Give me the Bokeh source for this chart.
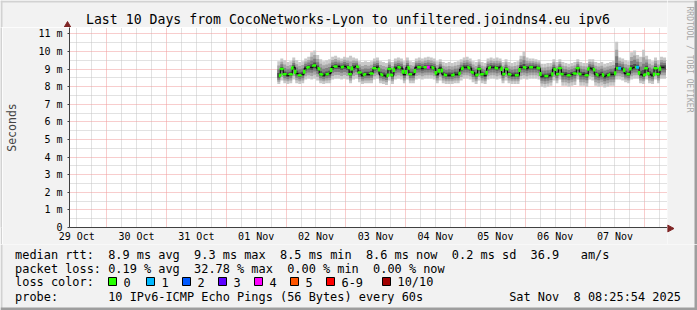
import math
from bokeh.plotting import figure
from bokeh.layouts import column, row
from bokeh.models import Range1d, FixedTicker
from bokeh.core.properties import value
from bokeh.embed import file_html
from bokeh.resources import INLINE

# ---------------- data ----------------
title_text = "Last 10 Days from CocoNetworks-Lyon to unfiltered.joindns4.eu ipv6"
# x axis in hours since 2025-10-29 00:00
x_start_hour = 9.08
x_end_hour = 249.08
day_tick_hours = [12, 36, 60, 84, 108, 132, 156, 180, 204, 228]
day_labels = ["29 Oct", "30 Oct", "31 Oct", "01 Nov", "02 Nov",
              "03 Nov", "04 Nov", "05 Nov", "06 Nov", "07 Nov"]
midnight_hours = [24, 48, 72, 96, 120, 144, 168, 192, 216, 240]
y_ticks = [0, 1, 2, 3, 4, 5, 6, 7, 8, 9, 10, 11]
y_labels = ["0", "1 m", "2 m", "3 m", "4 m", "5 m", "6 m", "7 m",
            "8 m", "9 m", "10 m", "11 m"]

data_start_hour = 93.08   # first sample (Nov 1, ~21:05)
step_hours = 1.2          # one sample every 72 minutes

median_ms = [
    8.60, 9.00, 8.70, 8.65, 8.70, 9.10, 8.75, 8.65, 8.70, 9.05,
    9.10, 9.10, 9.20, 9.05, 8.70, 8.65, 8.70, 8.75, 9.10, 9.15,
    9.15, 9.10, 9.15, 9.10, 8.70, 9.10, 9.15, 8.80, 8.65, 8.70,
    8.70, 8.75, 9.05, 9.10, 8.70, 8.65, 8.60, 9.00, 8.65, 9.05,
    9.10, 9.05, 8.70, 9.10, 8.70, 8.70, 9.10, 9.10, 9.05, 9.10,
    9.10, 9.10, 9.05, 8.70, 9.05, 8.70, 8.65, 8.65, 8.65, 8.70,
    8.70, 9.00, 9.10, 9.10, 9.05, 8.80, 8.65, 9.00, 8.70, 8.65,
    9.05, 9.10, 9.10, 9.05, 9.10, 8.70, 9.00, 8.70, 8.65, 8.65,
    8.65, 9.10, 9.10, 9.05, 9.10, 9.10, 9.10, 9.05, 8.60, 8.60,
    8.60, 8.65, 9.00, 8.70, 9.05, 8.70, 8.70, 8.65, 8.70, 8.75,
    9.05, 8.70, 8.70, 8.65, 9.05, 9.00, 8.70, 8.65, 8.70, 8.60,
    8.65, 8.70, 8.70, 9.05, 9.05, 9.00, 8.75, 8.70, 9.05, 9.10,
    9.10, 8.70, 8.65, 9.05, 8.70, 8.65, 9.05, 8.70, 9.10, 9.10,
]
smoke_max_ms = [
    9.45, 9.60, 9.50, 9.40, 9.45, 9.65, 9.50, 9.40, 9.45, 9.60,
    9.70, 9.95, 10.05, 9.80, 9.55, 9.45, 9.50, 9.55, 9.70, 9.75,
    9.65, 9.60, 9.70, 9.65, 9.75, 9.65, 9.60, 9.45, 9.40, 9.45,
    9.40, 9.45, 9.60, 9.65, 9.45, 9.40, 9.35, 9.55, 9.40, 9.60,
    9.65, 9.60, 9.45, 9.65, 9.45, 9.40, 9.60, 9.65, 9.60, 9.65,
    9.70, 9.65, 9.60, 9.45, 9.55, 9.40, 9.35, 9.40, 9.35, 9.40,
    9.45, 9.55, 9.65, 9.70, 9.60, 9.45, 9.40, 9.55, 9.40, 9.35,
    9.60, 9.65, 9.60, 9.65, 9.60, 9.40, 9.55, 9.40, 9.35, 9.40,
    9.45, 9.75, 10.00, 9.65, 9.60, 9.60, 9.55, 9.50, 9.30, 9.30,
    9.35, 9.35, 9.55, 9.40, 9.55, 9.40, 9.35, 9.30, 9.35, 9.40,
    9.55, 9.40, 9.35, 9.35, 9.55, 9.55, 9.40, 9.35, 9.40, 9.30,
    9.35, 9.40, 9.45, 10.55, 9.65, 9.60, 9.50, 9.45, 9.95, 10.05,
    9.80, 9.70, 10.10, 9.75, 9.55, 9.45, 9.65, 9.50, 9.70, 9.65,
]
smoke_min_ms = [
    8.15, 8.35, 8.20, 8.15, 8.20, 8.40, 8.20, 8.15, 8.20, 8.40,
    8.45, 8.40, 8.45, 8.35, 8.20, 8.15, 8.20, 8.20, 8.40, 8.45,
    8.45, 8.40, 8.45, 8.40, 8.20, 8.40, 8.45, 8.25, 8.15, 8.20,
    8.20, 8.20, 8.40, 8.45, 8.20, 8.15, 8.10, 8.35, 8.15, 8.40,
    8.45, 8.40, 8.20, 8.40, 8.20, 8.20, 8.40, 8.45, 8.40, 8.45,
    8.45, 8.45, 8.40, 8.20, 8.35, 8.20, 8.15, 8.15, 8.15, 8.20,
    8.20, 8.35, 8.45, 8.45, 8.40, 8.25, 8.15, 8.35, 8.20, 8.15,
    8.40, 8.45, 8.45, 8.40, 8.45, 8.20, 8.35, 8.20, 8.15, 8.15,
    8.15, 8.40, 8.45, 8.40, 8.45, 8.45, 8.45, 8.40, 8.00, 7.95,
    8.00, 8.05, 8.35, 8.20, 8.40, 8.05, 8.05, 8.00, 8.05, 8.10,
    8.40, 8.05, 8.05, 8.00, 8.40, 8.35, 8.05, 8.00, 8.05, 7.95,
    8.00, 8.05, 8.05, 8.40, 8.40, 8.35, 8.25, 8.20, 8.40, 8.45,
    8.45, 8.20, 8.15, 8.40, 8.20, 8.15, 8.40, 8.20, 8.45, 8.45,
]
# samples with packet loss (index, lost pings out of 10)
loss_index = [50, 114, 120]
loss_count = [4, 1, 1]

loss_labels = ["0", "1", "2", "3", "4", "5", "6-9", "10/10"]
loss_colors = ["#26ff00", "#00b8ff", "#0059ff", "#5e00ff",
               "#ff00ff", "#ff5500", "#ff0000", "#a10000"]

stats_rtt = ["median rtt:", "8.9 ms avg", "9.3 ms max", "8.5 ms min",
             "8.6 ms now", "0.2 ms sd", "36.9", "am/s"]
stats_loss = ["packet loss:", "0.19 % avg", "32.78 % max", "0.00 % min",
              "0.00 % now"]
probe_text = ["probe:", "10 IPv6-ICMP Echo Pings (56 Bytes) every 60s"]
date_parts = ["Sat Nov", "8 08:25:54 2025"]   # "Sat Nov  8 08:25:54 2025"
watermark = "RRDTOOL / TOBI OETIKER"

# ---------------- layout constants (canvas px) ----------------
W, H = 697, 310
FL, FR, FT, FB = 67, 667, 27, 228      # plot frame edges
SPLIT = 244                            # top of legend strip
MONO = "DejaVu Sans Mono"
BACK = "#f2f2f2"
SHADEA = "#d2d2d2"
SHADEB = "#9e9e9e"
ARROW = "#7f2525"


def pixel_fig(x0, x1, y0, y1):
    """A decoration panel whose data space is canvas pixels (y downwards)."""
    f = figure(width=x1 - x0, height=y1 - y0, output_backend="svg",
               toolbar_location=None, x_range=Range1d(x0, x1),
               y_range=Range1d(y1, y0), min_border=0,
               x_axis_location=None, y_axis_location=None)
    f.grid.visible = False
    f.outline_line_color = None
    f.background_fill_color = BACK
    f.border_fill_color = BACK
    return f


def txt(f, x, y, t, size, align="left", angle=0.0, color="#000000"):
    f.text(x=[x], y=[y], text=[t], text_font=value(MONO),
           text_font_size=value(size), text_align=align,
           text_baseline="middle", angle=angle, text_color=color)


# ---- head panel (title, y arrow) ----
head = pixel_fig(0, FR, 0, FT)
head.quad(left=[0, 0], right=[FR, 2], top=[0, 0], bottom=[2, FT],
          fill_color=SHADEA, line_color=None)
txt(head, 347.5, 19, title_text, "13.2px", align="center")
head.patch(x=[63.5, 70.5, 67], y=[FT, FT, 21], fill_color=ARROW, line_color=ARROW)

# ---- left shade strip next to the plot ----
lstrip = pixel_fig(0, 2, FT, SPLIT)
lstrip.background_fill_color = SHADEA
lstrip.border_fill_color = SHADEA

# ---- main plot ----
p = figure(width=FR - 2, height=SPLIT - FT, output_backend="svg",
           toolbar_location=None,
           x_range=Range1d(x_start_hour, x_end_hour),
           y_range=Range1d(0, 11.36),
           min_border_left=FL - 2, min_border_right=0,
           min_border_top=0, min_border_bottom=SPLIT - FB)
p.border_fill_color = BACK
p.background_fill_color = "#ffffff"
p.outline_line_color = None

p.xgrid.ticker = FixedTicker(ticks=midnight_hours,
                             minor_ticks=[h for h in range(6, 250, 6) if h % 24 != 0])
p.ygrid.ticker = FixedTicker(ticks=y_ticks, minor_ticks=[t + 0.5 for t in y_ticks[:-1]])
for g in (p.xgrid, p.ygrid):
    g.grid_line_color = "#f09a9a"
    g.grid_line_dash = "1 1"
    g.grid_line_width = 1
    g.minor_grid_line_color = "#c4c4c4"
    g.minor_grid_line_dash = "1 1"
    g.minor_grid_line_width = 1

p.xaxis.ticker = FixedTicker(ticks=day_tick_hours, minor_ticks=[])
p.xaxis.major_label_overrides = {h: l for h, l in zip(day_tick_hours, day_labels)}
p.yaxis.ticker = FixedTicker(ticks=y_ticks, minor_ticks=[])
p.yaxis.major_label_overrides = {t: l for t, l in zip(y_ticks, y_labels)}
for ax in (p.xaxis[0], p.yaxis[0]):
    ax.axis_line_color = "#404040"
    ax.major_tick_line_color = "#404040"
    ax.minor_tick_line_color = None
    ax.major_label_text_font = MONO
    ax.major_label_text_font_size = "10px"
    ax.major_label_text_color = "#000000"
p.xaxis.major_tick_out = 0
p.xaxis.major_tick_in = 0
p.xaxis.major_label_standoff = 3
p.yaxis.major_tick_out = 2
p.yaxis.major_tick_in = 0
p.yaxis.major_label_standoff = 5
p.yaxis.axis_label = "Seconds"
p.yaxis.axis_label_text_font = MONO
p.yaxis.axis_label_text_font_size = "11.5px"
p.yaxis.axis_label_text_font_style = "normal"
p.yaxis.axis_label_standoff = 16

xs = [data_start_hour + step_hours * i for i in range(len(median_ms))]
layers = [(1.0, "#c8c8c8"), (0.7, "#a4a4a4"), (0.45, "#7e7e7e"), (0.2, "#4e4e4e")]
for frac, col in layers:
    tops = [m + frac * (hi - m) for m, hi in zip(median_ms, smoke_max_ms)]
    bots = [m - frac * (m - lo) for m, lo in zip(median_ms, smoke_min_ms)]
    p.vbar(x=xs, width=step_hours, top=tops, bottom=bots,
           fill_color=col, line_color=None)

p.step(xs, median_ms, mode="center", line_color="#000000", line_width=1)
p.step(xs, median_ms, mode="center", line_color=loss_colors[0], line_width=2.5,
       line_dash="4 4")
p.rect(x=[xs[i] for i in loss_index], y=[median_ms[i] for i in loss_index],
       width=3, height=3, width_units="screen", height_units="screen",
       fill_color=[loss_colors[c] for c in loss_count], line_color=None)

# ---- right panel (watermark, x arrow, shade) ----
right = pixel_fig(FR, W, 0, SPLIT)
right.quad(left=[FR, W - 3], right=[W, W], top=[0, 0], bottom=[2, SPLIT],
           fill_color=[SHADEA, SHADEB], line_color=None)
txt(right, 689, 59, watermark, "8px", align="center", angle=-math.pi / 2,
    color="#a6a6a6")
right.patch(x=[FR, FR, 673.5], y=[224.5, 231.5, 228], fill_color=ARROW, line_color=ARROW)

# ---- legend panel ----
leg = pixel_fig(0, W, SPLIT, H)
leg.quad(left=[0, W - 3, 0], right=[2, W, W], top=[SPLIT, SPLIT, H - 3],
         bottom=[H, H, H], fill_color=[SHADEA, SHADEB, SHADEB], line_color=None)
CW, X0 = 7.16, 14.6
LEG = "11.9px"
for t, n in zip(stats_rtt, [0, 13, 25, 37, 49, 61, 72, 79]):
    txt(leg, X0 + n * CW, 254, t, LEG)
for t, n in zip(stats_loss, [0, 13, 25, 38, 50]):
    txt(leg, X0 + n * CW, 268, t, LEG)
txt(leg, X0, 281.5, "loss color:", LEG)
loss_box_x = [108, 146, 182, 218, 254, 290, 326, 382]
leg.quad(left=loss_box_x, right=[b + 8 for b in loss_box_x],
         top=[277] * len(loss_box_x), bottom=[285] * len(loss_box_x),
         fill_color=loss_colors, line_color="#000000", line_width=1)
for bx, t in zip(loss_box_x, loss_labels):
    txt(leg, bx + 15, 281.5, t, LEG)
for t, n in zip(probe_text, [0, 13]):
    txt(leg, X0 + n * CW, 296, t, LEG)
for t, n in zip(date_parts, [69, 78]):
    txt(leg, X0 + n * CW, 296, t, LEG)

layout = column(row(column(head, row(lstrip, p)), right), leg)

open("out.html", "w").write(file_html(layout, INLINE))
